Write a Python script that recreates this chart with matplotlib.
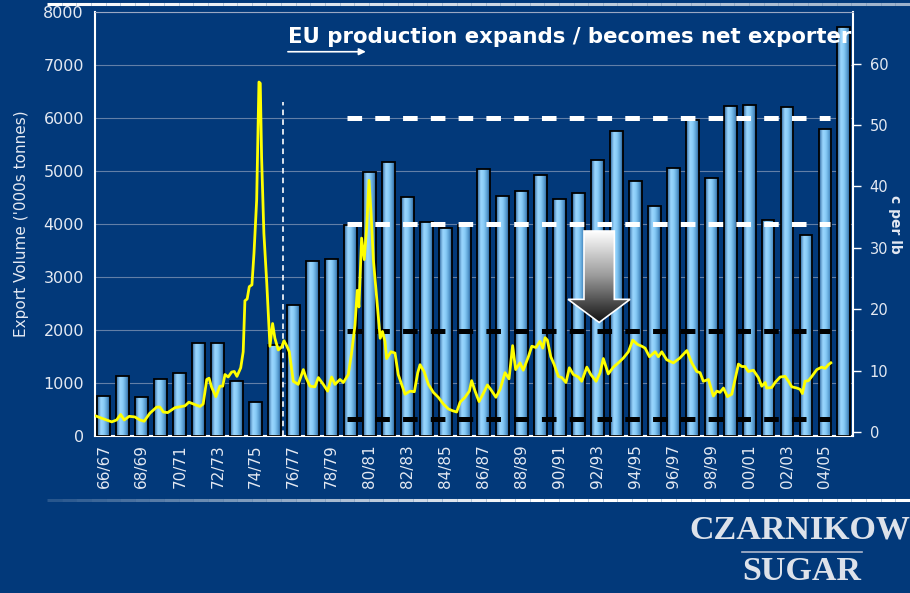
import numpy as np
import matplotlib
matplotlib.use("Agg")
import matplotlib.pyplot as plt
from matplotlib.colors import LinearSegmentedColormap
from matplotlib.patches import Polygon
from matplotlib.collections import LineCollection

plt.rcParams['lines.scale_dashes'] = False

# seasons (one bar each)
seasons = ["66/67", "67/68", "68/69", "69/70", "70/71", "71/72", "72/73", "73/74",
           "74/75", "75/76", "76/77", "77/78", "78/79", "79/80", "80/81", "81/82",
           "82/83", "83/84", "84/85", "85/86", "86/87", "87/88", "88/89", "89/90",
           "90/91", "91/92", "92/93", "93/94", "94/95", "95/96", "96/97", "97/98",
           "98/99", "99/00", "00/01", "01/02", "02/03", "03/04", "04/05", "05/06"]

# EU export volume, '000s tonnes
exports = [750, 1130, 740, 1080, 1180, 1760, 1760, 1040,
           640, 1720, 2480, 3300, 3330, 3980, 4980, 5170,
           4510, 4040, 3930, 3990, 5040, 4520, 4620, 4920,
           4470, 4580, 5210, 5750, 4820, 4340, 5060, 5960,
           4870, 6220, 6250, 4070, 6200, 3790, 5800, 7720]

# world raw sugar price (c per lb), position in season units
price_pos = [-0.47, -0.04, 0.41, 0.67, 0.88, 1.07, 1.33, 1.63, 1.90, 2.12, 2.42, 2.78,
             2.95, 3.13, 3.36, 3.74, 4.27, 4.48, 4.80, 5.06, 5.23, 5.42, 5.54, 5.68,
             5.90, 6.11, 6.26, 6.38, 6.55, 6.73, 6.87, 7.01, 7.21, 7.34, 7.43, 7.55,
             7.66, 7.80, 7.91, 8.05, 8.17, 8.24, 8.31, 8.43, 8.58, 8.75, 8.89, 9.01,
             9.19, 9.37, 9.49, 9.63, 9.77, 9.98, 10.24, 10.51, 10.65, 10.86, 11.12, 11.30,
             11.56, 11.79, 12.00, 12.18, 12.44, 12.62, 12.88, 13.06, 13.23, 13.35, 13.44, 13.58,
             13.72, 13.85, 13.97, 14.08, 14.20, 14.38, 14.56, 14.68, 14.81, 14.90, 15.13, 15.34,
             15.51, 15.69, 15.87, 16.13, 16.36, 16.54, 16.66, 16.87, 17.10, 17.36, 17.62, 17.89,
             18.15, 18.38, 18.59, 18.77, 19.03, 19.26, 19.38, 19.56, 19.77, 19.99, 20.21, 20.38,
             20.66, 20.88, 21.14, 21.35, 21.54, 21.70, 21.93, 22.10, 22.37, 22.55, 22.77, 22.98,
             23.13, 23.25, 23.37, 23.55, 23.72, 23.95, 24.13, 24.35, 24.53, 24.74, 25.00, 25.18,
             25.45, 25.66, 25.94, 26.15, 26.32, 26.58, 26.85, 27.11, 27.38, 27.64, 27.87, 28.12,
             28.35, 28.52, 28.75, 29.05, 29.22, 29.40, 29.66, 30.01, 30.36, 30.72, 30.98, 31.24,
             31.42, 31.59, 31.86, 32.12, 32.30, 32.47, 32.65, 32.86, 33.09, 33.26, 33.44, 33.62,
             33.79, 33.96, 34.23, 34.49, 34.67, 34.85, 34.93, 35.20, 35.37, 35.64, 35.90, 36.08,
             36.25, 36.52, 36.69, 36.81, 36.95, 37.13, 37.31, 37.57, 37.83, 38.01, 38.18, 38.31]
price = [2.7, 2.2, 1.7, 2.0, 2.9, 2.0, 2.6, 2.5, 2.0, 1.8, 3.1, 4.1,
         4.1, 3.3, 3.2, 4.0, 4.3, 4.9, 4.5, 4.2, 4.6, 8.6, 8.8, 7.3,
         5.8, 7.5, 7.5, 9.4, 9.0, 9.8, 9.9, 9.1, 10.5, 13.1, 21.4, 21.7,
         23.7, 24.0, 29.2, 37.8, 57.0, 56.8, 44.7, 32.4, 24.4, 14.0, 17.7, 15.3,
         13.4, 13.9, 14.9, 14.1, 13.1, 8.3, 7.8, 10.2, 8.9, 7.5, 7.4, 8.9,
         7.8, 6.7, 9.0, 7.8, 8.6, 8.1, 9.4, 13.1, 17.4, 23.1, 20.4, 31.6,
         28.1, 33.5, 41.0, 35.6, 28.1, 21.7, 15.3, 16.4, 14.8, 12.0, 13.1, 12.9,
         9.4, 7.8, 6.2, 6.7, 6.6, 9.7, 11.0, 9.9, 7.8, 6.5, 5.7, 4.6,
         3.8, 3.5, 3.3, 4.9, 5.7, 6.7, 8.4, 6.7, 5.0, 6.3, 7.7, 7.0,
         5.7, 7.0, 9.7, 8.7, 14.1, 10.2, 11.3, 10.1, 12.3, 14.0, 13.8, 14.8,
         13.7, 15.4, 15.0, 12.3, 11.1, 9.1, 8.9, 8.1, 10.5, 9.4, 9.0, 8.3,
         10.6, 9.4, 8.3, 9.7, 12.0, 9.5, 10.6, 11.3, 12.1, 13.1, 15.0, 14.3,
         14.0, 13.7, 12.3, 13.1, 12.3, 13.1, 11.8, 11.3, 12.1, 13.3, 11.3, 9.9,
         9.7, 8.3, 8.6, 5.9, 6.7, 6.5, 7.2, 5.8, 6.2, 8.6, 11.1, 10.7,
         10.7, 9.9, 10.1, 8.9, 7.5, 8.1, 7.2, 7.3, 8.1, 9.0, 9.1, 8.3,
         7.4, 7.2, 7.0, 6.3, 8.3, 8.4, 9.1, 10.2, 10.6, 10.4, 11.0, 11.3]

# reference levels ('000s tonnes) and their span in season units
white_levels = [6000, 4000]
black_levels = [1975, 325]
level_span = (12.83, 38.27)
divider_pos = 9.44
divider_top = 6300

title_text = "EU production expands / becomes net exporter"

bg = "#02397a"
txt = "#e4e9f2"

fig = plt.figure(figsize=(9.1, 5.93), dpi=100, facecolor=bg)
ax = fig.add_axes([0.1044, 0.2648, 0.8330, 0.7150], facecolor=bg)
x = np.arange(len(seasons))

# bars with a cylinder-like gradient
bars = ax.bar(x, exports, width=0.68, facecolor="none", edgecolor="black",
              linewidth=1.3, zorder=3)
bar_cmap = LinearSegmentedColormap.from_list(
    "bar", [(0, "#2b629a"), (0.3, "#9cd8ff"), (0.55, "#86caf6"),
            (0.85, "#4c90c6"), (1, "#24568c")])
grad = np.linspace(0, 1, 64).reshape(1, -1)
for b in bars:
    x0, w, h = b.get_x(), b.get_width(), b.get_height()
    im = ax.imshow(grad, extent=[x0, x0 + w, 0, h], aspect="auto",
                   cmap=bar_cmap, zorder=2, interpolation="bicubic")
    im.set_clip_path(b)

for lv in white_levels:
    ax.plot(level_span, [lv, lv], color="white", lw=3.6, dashes=(10.5, 9.5), zorder=4)
for lv in black_levels:
    ax.plot(level_span, [lv, lv], color="black", lw=3.6, dashes=(10.5, 9.5), zorder=4)
ax.plot([divider_pos, divider_pos], [0, divider_top], color="white", lw=1.2,
        dashes=(4, 3), zorder=4)

# shaded downward arrow
arrow_pts = [(25.3, 3867), (26.9, 3867), (26.9, 2578), (27.73, 2578),
             (26.1, 2142), (24.46, 2578), (25.3, 2578)]
arrow = Polygon(arrow_pts, closed=True, facecolor="none", edgecolor="white",
                lw=1.2, zorder=6)
ax.add_patch(arrow)
vgrad = np.linspace(0, 1, 64).reshape(-1, 1)
aim = ax.imshow(vgrad, extent=[24.46, 27.73, 2142, 3867], aspect="auto",
                cmap=LinearSegmentedColormap.from_list("arr", ["#ffffff", "#9a9a9a", "#151515"]),
                origin="upper", zorder=5, interpolation="bicubic")
aim.set_clip_path(arrow)

# title and small arrow
ax.text(9.7, 7530, title_text, color="white", fontsize=15.3, fontweight="bold",
        va="center", ha="left", zorder=7)
ax.annotate("", xy=(13.95, 7250), xytext=(9.55, 7250),
            arrowprops=dict(arrowstyle="-|>", color="white", lw=1.2,
                            mutation_scale=10), zorder=7)

ax.set_xlim(-0.47, 39.48)
ax.set_ylim(0, 8000)
ax.set_yticks(range(0, 8001, 1000))
ax.yaxis.grid(True, color="#8c9dbb", lw=0.8, alpha=0.7)
ax.set_axisbelow(True)
ax.set_xticks(x[::2])
ax.set_xticklabels(seasons[::2], rotation=90, fontsize=11, color=txt)
ax.tick_params(axis="x", length=0, pad=6)
ax.tick_params(axis="y", colors=txt, labelsize=11.5, length=0, pad=8)
ax.set_ylabel("Export Volume ('000s tonnes)", color=txt, fontsize=11, labelpad=10)
for s in ["left", "bottom"]:
    ax.spines[s].set_color("white")
    ax.spines[s].set_linewidth(1.5)
ax.spines["top"].set_color("#9aa8c4")
ax.spines["right"].set_color("white")
ax.spines["right"].set_linewidth(1.5)

# price line on the right axis
ax2 = ax.twinx()
ax2.plot(price_pos, price, color="#ffff00", lw=2, zorder=5)
ax2.set_ylim(-0.6, 68.4)
ax2.set_yticks(range(0, 61, 10))
ax2.tick_params(axis="y", colors=txt, labelsize=10.5, length=6, width=1, pad=6,
                color="white")
ax2.set_ylabel("c per lb", color=txt, fontsize=10, fontweight="bold",
               rotation=-90, va="center")
ax2.yaxis.set_label_coords(1.055, 0.5)
for s in ax2.spines.values():
    s.set_visible(False)

# header / footer rules
xs = np.linspace(47 / 910, 1, 60)
top_seg = [[(xs[i], 0.993), (xs[i + 1], 0.993)] for i in range(len(xs) - 1)]
top_cols = [(1, 1, 1, 1 - 0.4 * i / len(xs)) for i in range(len(xs) - 1)]
fig.add_artist(LineCollection(top_seg, colors=top_cols, lw=2.2, transform=fig.transFigure))
bot_seg = [[(xs[i], 0.157), (xs[i + 1], 0.157)] for i in range(len(xs) - 1)]
bot_cols = [(1, 1, 1, min(1, 0.15 + 1.6 * i / len(xs))) for i in range(len(xs) - 1)]
fig.add_artist(LineCollection(bot_seg, colors=bot_cols, lw=2.2, transform=fig.transFigure))

# logo
fig.text(800 / 910, 1 - 530 / 593, "CZARNIKOW", color="#dde2ea", fontsize=24.5,
         fontweight="bold", family="Liberation Serif", ha="center", va="center")
fig.add_artist(plt.Line2D([742 / 910, 862 / 910], [1 - 552 / 593] * 2, color="#aeb8cc",
                          lw=1.2, transform=fig.transFigure))
fig.text(802 / 910, 1 - 572 / 593, "SUGAR", color="#dde2ea", fontsize=24.5,
         fontweight="bold", family="Liberation Serif", ha="center", va="center")

fig.savefig("out.png", dpi=100, facecolor=bg)
